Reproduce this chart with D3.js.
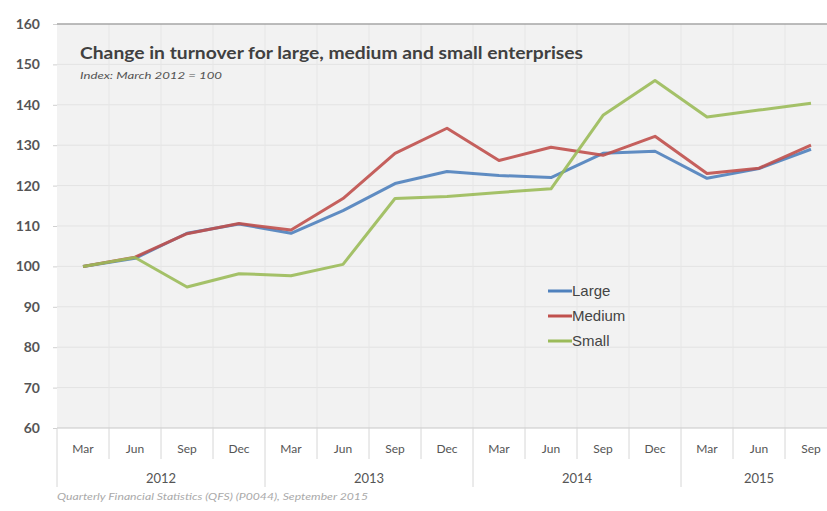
<!DOCTYPE html>
<html>
<head>
<meta charset="utf-8">
<script src="https://cdn.jsdelivr.net/npm/d3@7"></script>
<style>
  body { margin: 0; background: #fff; }
  svg { display: block; font-family: Lato, "Open Sans", sans-serif; }
</style>
</head>
<body>
<div id="chart"></div>
<script>
// data
var months = ["Mar","Jun","Sep","Dec","Mar","Jun","Sep","Dec","Mar","Jun","Sep","Dec","Mar","Jun","Sep"];
var years = ["2012","2013","2014","2015"];
var yearOf = [0,0,0,0,1,1,1,1,2,2,2,2,3,3,3];
var large  = [100, 102, 108.2, 110.5, 108.2, 113.8, 120.5, 123.5, 122.5, 122, 128, 128.5, 121.8, 124.2, 129];
var medium = [100, 102.3, 108.1, 110.6, 109, 116.8, 128, 134.2, 126.2, 129.5, 127.5, 132.2, 123, 124.3, 130];
var small  = [100, 102.2, 94.9, 98.2, 97.7, 100.5, 116.8, 117.3, 118.3, 119.2, 137.4, 146, 137, 138.7, 140.4];
var yTicks = [60, 70, 80, 90, 100, 110, 120, 130, 140, 150, 160];

var series = [
  {name: "Large",  values: large,  color: "#4f81bd"},
  {name: "Medium", values: medium, color: "#c0504d"},
  {name: "Small",  values: small,  color: "#9bbb59"}
];

var width = 827, height = 511;
var plotLeft = 57, plotTop = 24, plotBottom = 428;

var svg = d3.select("#chart").append("svg")
    .attr("width", width)
    .attr("height", height);

var keys = months.map(function(m, i) { return m + " " + years[yearOf[i]]; });

var x = d3.scaleBand()
  .domain(keys)
  .range([plotLeft, plotLeft + 15 * 52]);

var y = d3.scaleLinear()
  .domain([60, 160])
  .range([plotBottom, plotTop]);

// plot background
svg.append("rect")
  .attr("x", plotLeft).attr("y", plotTop)
  .attr("width", width - plotLeft).attr("height", plotBottom - plotTop)
  .attr("fill", "#f2f2f2");

// horizontal grid
svg.append("g").selectAll("line")
  .data(yTicks.slice(1, -1))
  .enter().append("line")
    .attr("x1", plotLeft).attr("x2", width)
    .attr("y1", function(d) { return y(d); })
    .attr("y2", function(d) { return y(d); })
    .attr("stroke", "#e3e3e3");

// vertical grid
svg.append("g").selectAll("line")
  .data(keys.slice(1))
  .enter().append("line")
    .attr("x1", function(d) { return x(d); })
    .attr("x2", function(d) { return x(d); })
    .attr("y1", plotTop).attr("y2", plotBottom)
    .attr("stroke", "#e6e6e6");

// top and bottom border lines
svg.append("line")
  .attr("x1", plotLeft).attr("x2", width)
  .attr("y1", y(160)).attr("y2", y(160))
  .attr("stroke", "#a6a6a6").attr("stroke-width", 1.5);
svg.append("line")
  .attr("x1", plotLeft).attr("x2", width)
  .attr("y1", y(60)).attr("y2", y(60))
  .attr("stroke", "#c8c8c8");

// y axis
var yAxis = svg.append("g")
  .attr("transform", "translate(" + plotLeft + ",0)")
  .call(d3.axisLeft(y).tickValues(yTicks).tickSize(4).tickPadding(13));
yAxis.select(".domain").remove();
yAxis.selectAll("line").attr("stroke", "#d0d0d0");
yAxis.selectAll("text")
  .attr("fill", "#555")
  .style("font-size", "14px")
  .style("font-weight", "bold")
  .style("font-family", "Lato, sans-serif");

// x axis: month labels
svg.append("g").selectAll("text")
  .data(keys)
  .enter().append("text")
    .attr("x", function(d) { return x(d) + x.bandwidth() / 2; })
    .attr("y", 453)
    .attr("text-anchor", "middle")
    .attr("fill", "#555")
    .style("font-size", "12px")
    .text(function(d, i) { return months[i]; });

// month separators
svg.append("g").selectAll("line")
  .data(keys)
  .enter().append("line")
    .attr("x1", function(d) { return x(d); })
    .attr("x2", function(d) { return x(d); })
    .attr("y1", plotBottom)
    .attr("y2", function(d, i) { return i % 4 === 0 ? 487 : 459; })
    .attr("stroke", "#d6d6d6");

// year labels
svg.append("g").selectAll("text")
  .data(years)
  .enter().append("text")
    .attr("x", function(d, j) {
      var idx = yearOf.map(function(v, i) { return v === j ? i : -1; }).filter(function(i) { return i >= 0; });
      var a = x(keys[idx[0]]), b = x(keys[idx[idx.length - 1]]) + x.bandwidth();
      return (a + b) / 2;
    })
    .attr("y", 483)
    .attr("text-anchor", "middle")
    .attr("fill", "#555")
    .style("font-size", "13px")
    .text(function(d) { return d; });

// lines
var line = d3.line()
  .x(function(d, i) { return x(keys[i]) + x.bandwidth() / 2; })
  .y(function(d) { return y(d); });

svg.append("g").selectAll("path")
  .data(series)
  .enter().append("path")
    .attr("d", function(d) { return line(d.values); })
    .attr("fill", "none")
    .attr("stroke", function(d) { return d.color; })
    .attr("stroke-width", 3)
    .attr("stroke-linejoin", "round")
    .attr("opacity", 0.9);

// title
svg.append("text")
  .attr("x", 80).attr("y", 59)
  .attr("fill", "#404040")
  .attr("textLength", 503)
  .attr("lengthAdjust", "spacingAndGlyphs")
  .style("font-size", "17px")
  .style("font-weight", "bold")
  .text("Change in turnover for large, medium and small enterprises");

svg.append("text")
  .attr("x", 80).attr("y", 79)
  .attr("fill", "#555")
  .attr("textLength", 142)
  .attr("lengthAdjust", "spacingAndGlyphs")
  .style("font-size", "10px")
  .style("font-style", "italic")
  .text("Index: March 2012 = 100");

// legend
var legend = svg.append("g").selectAll("g")
  .data(series)
  .enter().append("g")
    .attr("transform", function(d, i) { return "translate(548," + (291 + i * 25) + ")"; });
legend.append("line")
  .attr("x1", 0).attr("x2", 24)
  .attr("stroke", function(d) { return d.color; })
  .attr("stroke-width", 3);
legend.append("text")
  .attr("x", 24).attr("dy", "0.35em")
  .attr("fill", "#444")
  .style("font-size", "15px")
  .style("font-family", "'Liberation Sans', Arial, sans-serif")
  .text(function(d) { return d.name; });

// source
svg.append("text")
  .attr("x", 57).attr("y", 500)
  .attr("fill", "#aaa")
  .attr("textLength", 311)
  .attr("lengthAdjust", "spacingAndGlyphs")
  .style("font-size", "9px")
  .style("font-style", "italic")
  .text("Quarterly Financial Statistics (QFS) (P0044), September 2015");
</script>
</body>
</html>
